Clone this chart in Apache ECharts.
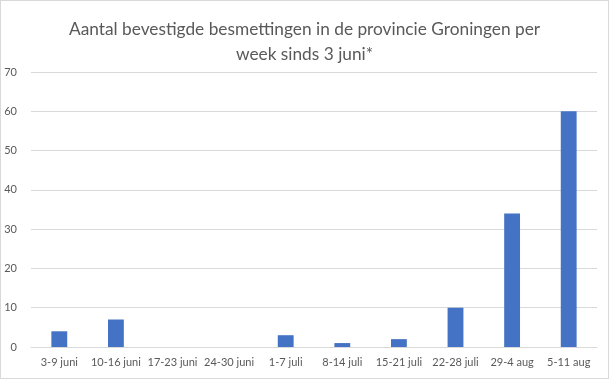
<!DOCTYPE html>
<html><head><meta charset="utf-8">
<script src="https://cdn.jsdelivr.net/npm/echarts@6/dist/echarts.min.js"></script>
<style>html,body{margin:0;padding:0;background:#fff}#c{width:609px;height:379px;box-sizing:border-box;border:1px solid #d9d9d9}</style>
</head><body><div id="c"></div>
<script>
const categories = ['3-9 juni','10-16 juni','17-23 juni','24-30 juni','1-7 juli','8-14 juli','15-21 juli','22-28 juli','29-4 aug','5-11 aug'];
const values = [4, 7, 0, 0, 3, 1, 2, 10, 34, 60];
const titleText = 'Aantal bevestigde besmettingen in de provincie Groningen per\nweek sinds 3 juni*';
const chart = echarts.init(document.getElementById('c'));
chart.setOption({
  animation: false,
  textStyle: {fontFamily: 'Lato'},
  title: {text: titleText, left: 'center', top: 11,
    textStyle: {fontFamily: 'Lato', fontSize: 17.3, fontWeight: 'normal', color: '#595959', lineHeight: 25}},
  grid: {left: 30, right: 11, top: 71, bottom: 31},
  xAxis: {type: 'category', data: categories,
    axisLine: {show: true, lineStyle: {color: '#d9d9d9'}}, axisTick: {show: false},
    axisLabel: {color: '#595959', fontSize: 11, margin: 10, interval: 0}},
  yAxis: {type: 'value', min: 0, max: 70, interval: 10,
    axisLine: {show: false}, axisTick: {show: false},
    axisLabel: {color: '#595959', fontSize: 11, margin: 14},
    splitLine: {lineStyle: {color: '#d9d9d9'}}},
  series: [{type: 'bar', data: values, barWidth: '28%', itemStyle: {color: '#4472C4'}}]
});
</script></body></html>
